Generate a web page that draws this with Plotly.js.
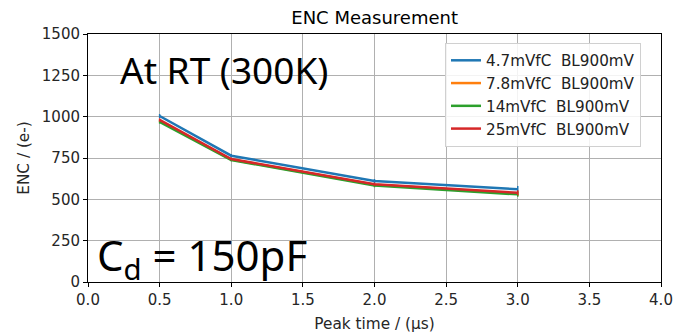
<!DOCTYPE html>
<html><head><meta charset="utf-8">
<script src="https://cdn.plot.ly/plotly-3.0.1.min.js"></script>
<style>body{margin:0;background:#fff}#chart{width:675px;height:335px}</style>
</head><body><div id="chart"></div>
<script>
const peakTime = [0.5, 1.0, 2.0, 3.0];
const seriesNames = ["4.7mVfC&nbsp;&nbsp;BL900mV", "7.8mVfC&nbsp;&nbsp;BL900mV", "14mVfC&nbsp;&nbsp;BL900mV", "25mVfC&nbsp;&nbsp;BL900mV"];
const enc47 = [1004, 764, 611, 561];
const enc78 = [975, 741, 588, 535];
const enc14 = [968, 738, 583, 530];
const enc25 = [980, 744, 591, 540];
const err47 = [12, 10, 12, 20];
const err78 = [10, 8, 10, 15];
const err14 = [10, 8, 10, 15];
const err25 = [10, 8, 10, 15];
const colors = ["#1f77b4", "#ff7f0e", "#2ca02c", "#d62728"];

const ys = [enc47, enc78, enc14, enc25];
const es = [err47, err78, err14, err25];
const traces = ys.map((y, i) => ({
  x: peakTime, y: y, name: seriesNames[i], type: 'scatter', mode: 'lines',
  line: {color: colors[i], width: 2.5},
  error_y: {type: 'data', array: es[i], visible: true, color: colors[i], thickness: 1.5, width: 0}
}));

const axisCommon = {
  showline: true, linecolor: '#000', linewidth: 1, mirror: true,
  ticks: 'outside', ticklen: 4, tickcolor: '#000',
  showgrid: true, gridcolor: '#b0b0b0', gridwidth: 1, zeroline: false,
  tickfont: {family: 'DejaVu Sans', size: 15, color: '#262626'}
};

const layout = {
  width: 675, height: 335,
  margin: {l: 88, r: 14, t: 34, b: 53},
  paper_bgcolor: '#fff', plot_bgcolor: '#fff',
  title: {text: 'ENC Measurement', font: {family: 'DejaVu Sans', size: 18, color: '#000'}, x: 0.555, xanchor: 'center', y: 0.948, yanchor: 'middle'},
  xaxis: Object.assign({}, axisCommon, {range: [0, 4], dtick: 0.5, tickformat: '.1f',
    title: {text: 'Peak time / (μs)', font: {family: 'DejaVu Sans', size: 15.3, color: '#262626'}, standoff: 10}}),
  yaxis: Object.assign({}, axisCommon, {range: [0, 1500], dtick: 250,
    title: {text: 'ENC / (e-)', font: {family: 'DejaVu Sans', size: 15.3, color: '#262626'}, standoff: 8}}),
  legend: {x: 0.623, y: 0.964, xanchor: 'left', yanchor: 'top', bgcolor: 'rgba(255,255,255,0.85)',
    bordercolor: '#d0d0d0', borderwidth: 1, font: {family: 'DejaVu Sans', size: 15.2, color: '#222'},
    tracegroupgap: 0, itemwidth: 30},
  showlegend: true,
  annotations: [
    {text: 'At RT (300K)', xref: 'paper', yref: 'paper', x: 0.052, y: 0.855, xanchor: 'left', yanchor: 'middle', showarrow: false,
     font: {family: 'Noto Sans', size: 37, color: '#000'}},
    {text: 'C<sub>d</sub> = 150pF', xref: 'paper', yref: 'paper', x: 0.013, y: 0.1, xanchor: 'left', yanchor: 'middle', showarrow: false,
     font: {family: 'Noto Sans', size: 42, color: '#000'}}
  ]
};
Plotly.newPlot('chart', traces, layout, {displayModeBar: false, staticPlot: true});
</script></body></html>
